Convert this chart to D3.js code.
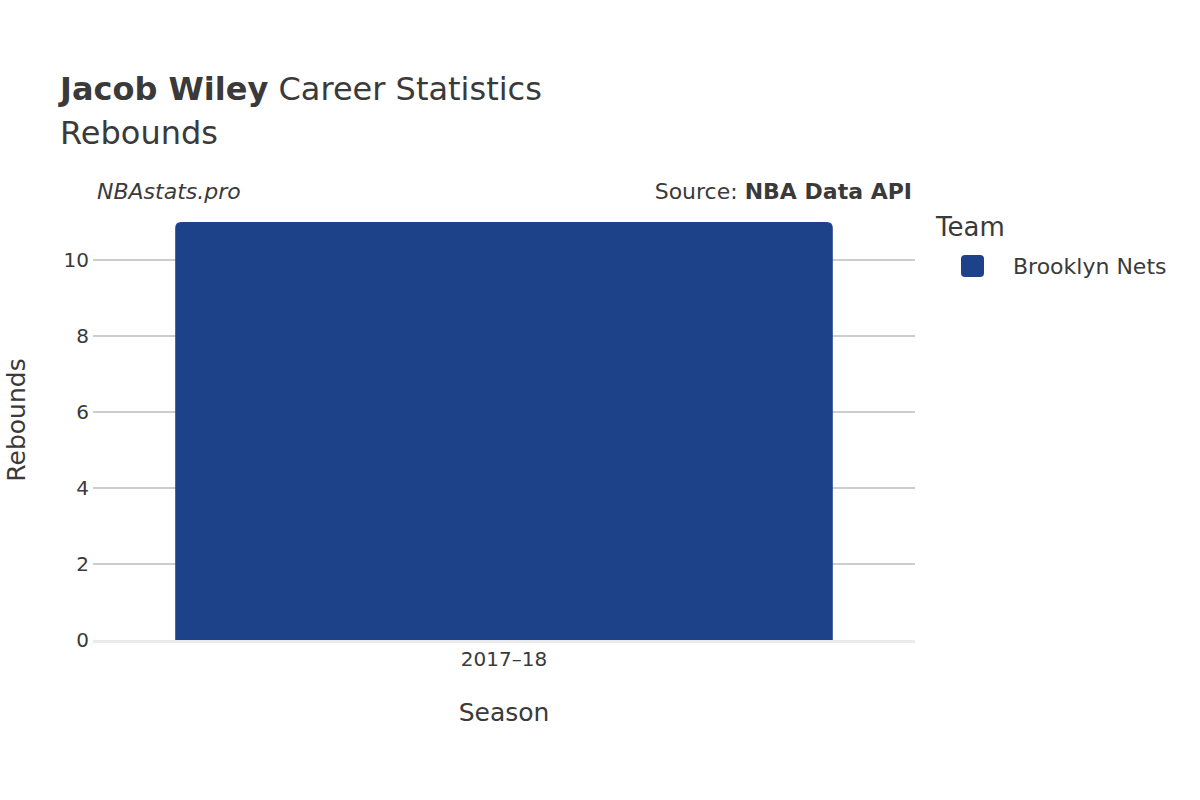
<!DOCTYPE html>
<html><head><meta charset="utf-8">
<script src="https://cdn.jsdelivr.net/npm/d3@7"></script>
<style>body{margin:0;background:#fff}text{font-family:"DejaVu Sans",sans-serif;fill:#3a3a3a}</style>
</head><body><svg id="chart" width="1200" height="800"></svg>
<script>
const seasons = ['2017–18']
const rebounds = [11]
const teams = ['Brooklyn Nets']
const teamColors = ['#1d428a']
const yTicks = [0, 2, 4, 6, 8, 10]

const svg = d3.select('svg#chart')
const left = 93, right = 915, bottom = 640

const x = d3.scaleBand().domain(seasons).range([left, right]).paddingInner(0.2).paddingOuter(0.1)
const y = d3.scaleLinear().domain([0, 10]).range([bottom, 260])

// grid
svg.append('g').selectAll('line').data(yTicks.filter(d => d > 0)).join('line')
  .attr('x1', left).attr('x2', right)
  .attr('y1', d => y(d)).attr('y2', d => y(d))
  .attr('stroke', '#bdbdbd').attr('stroke-width', 1.5)

// bars with rounded top
const r = 6
svg.append('g').selectAll('path').data(rebounds).join('path')
  .attr('fill', teamColors[0])
  .attr('d', (d, i) => {
    const x0 = x(seasons[i]), w = x.bandwidth(), y0 = y(d), y1 = y(0)
    return `M${x0},${y1}V${y0 + r}Q${x0},${y0} ${x0 + r},${y0}H${x0 + w - r}Q${x0 + w},${y0} ${x0 + w},${y0 + r}V${y1}Z`
  })

svg.append('line').attr('x1', left).attr('x2', right)
  .attr('y1', y(0) + 1.5).attr('y2', y(0) + 1.5)
  .attr('stroke', '#ebebeb').attr('stroke-width', 3)

// y ticks
svg.append('g').selectAll('text').data(yTicks).join('text')
  .attr('x', left - 4).attr('y', d => y(d)).attr('dy', '0.35em')
  .attr('text-anchor', 'end').attr('font-size', 20).text(d => d)

// x ticks
svg.append('g').selectAll('text').data(seasons).join('text')
  .attr('x', d => x(d) + x.bandwidth() / 2).attr('y', 666)
  .attr('text-anchor', 'middle').attr('font-size', 20).text(d => d)

svg.append('text').attr('x', (left + right) / 2).attr('y', 721)
  .attr('text-anchor', 'middle').attr('font-size', 25).text('Season')
svg.append('text').attr('transform', 'translate(25,420) rotate(-90)')
  .attr('text-anchor', 'middle').attr('font-size', 25).text('Rebounds')

// titles
const t = svg.append('text').attr('x', 60).attr('y', 100).attr('font-size', 32)
t.append('tspan').attr('font-weight', 'bold').text('Jacob Wiley')
t.append('tspan').text(' Career Statistics')
svg.append('text').attr('x', 60).attr('y', 144).attr('font-size', 32).text('Rebounds')

svg.append('text').attr('x', 97).attr('y', 199).attr('font-size', 22)
  .attr('font-style', 'italic').text('NBAstats.pro')
const s = svg.append('text').attr('x', 912).attr('y', 199).attr('font-size', 22).attr('text-anchor', 'end')
s.append('tspan').text('Source: ')
s.append('tspan').attr('font-weight', 'bold').text('NBA Data API')

// legend
svg.append('text').attr('x', 936).attr('y', 236).attr('font-size', 26).text('Team')
const lg = svg.append('g').selectAll('g').data(teams).join('g')
  .attr('transform', (d, i) => `translate(961,${255 + i * 30})`)
lg.append('rect').attr('width', 23).attr('height', 22).attr('rx', 4)
  .attr('fill', (d, i) => teamColors[i])
lg.append('text').attr('x', 52).attr('y', 11).attr('dy', '0.35em').attr('font-size', 22).text(d => d)
</script></body></html>
